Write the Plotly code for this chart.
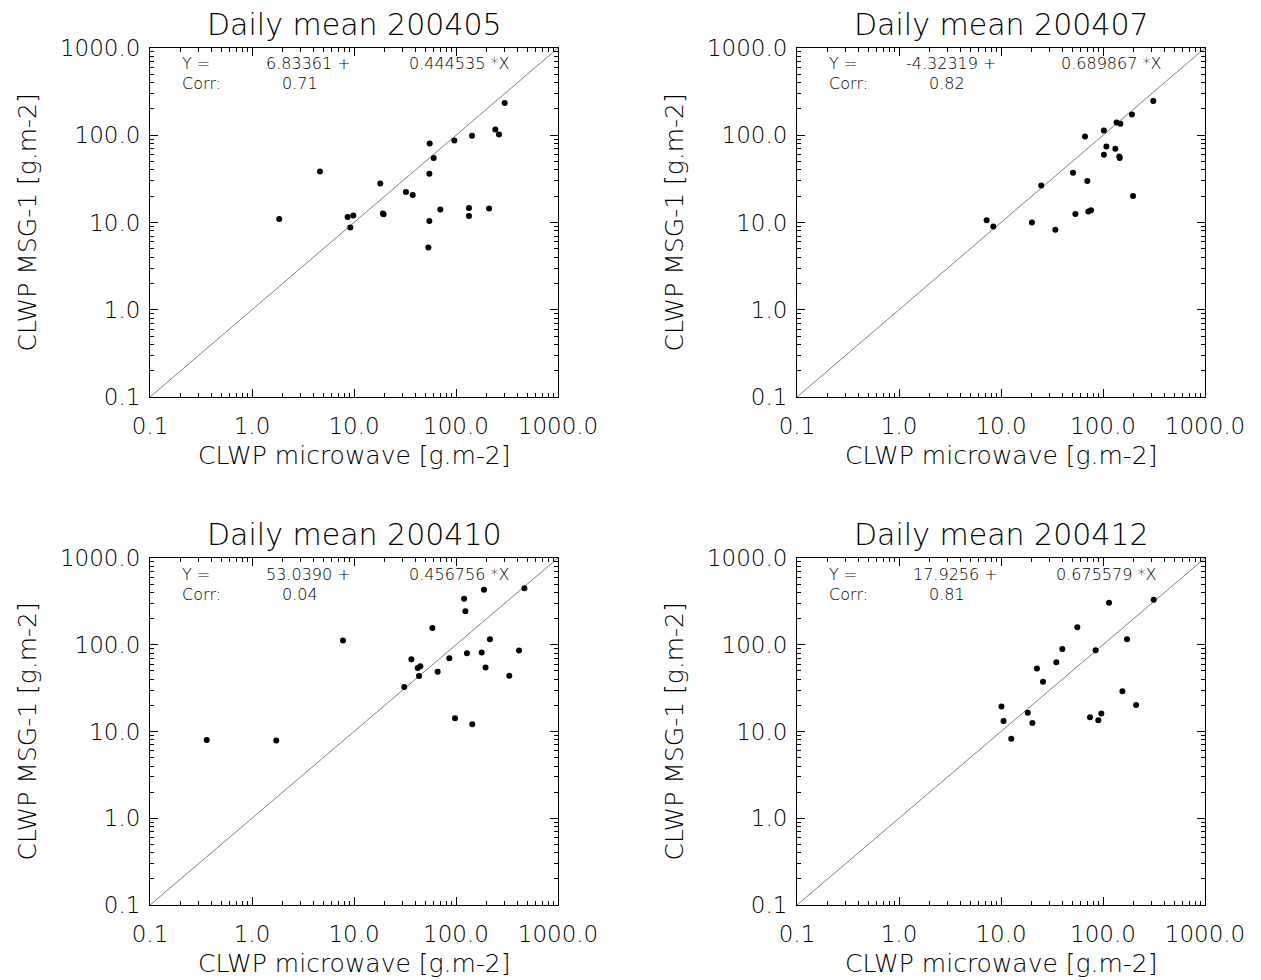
import plotly.graph_objects as go

# ---------------- data ----------------
titles = ["Daily mean 200405", "Daily mean 200407", "Daily mean 200410", "Daily mean 200412"]
intercepts = ["6.83361", "-4.32319", "53.0390", "17.9256"]
slopes = ["0.444535", "0.689867", "0.456756", "0.675579"]
corrs = ["0.71", "0.82", "0.04", "0.81"]

x_200405 = [1.85, 4.64, 8.66, 9.85, 9.2, 18.1, 19.2, 19.5, 32.3, 37.6, 55.2, 60.4, 54.8, 54.8,
            53.6, 70.2, 96.3, 143.5, 134, 134, 211, 243, 264, 300]
y_200405 = [11.0, 38.5, 11.6, 12.0, 8.77, 28.0, 12.7, 12.4, 22.3, 20.7, 80.6, 54.7, 36.1, 10.4,
            5.17, 14.1, 87.3, 98.6, 14.7, 11.9, 14.5, 116.7, 102, 234]

x_200407 = [7.23, 8.41, 20.1, 24.8, 34.1, 50.8, 53.6, 66.6, 70.2, 71.8, 76.3, 102, 102, 108,
            132, 136, 148, 144.5, 146, 192, 197, 311]
y_200407 = [10.6, 9.0, 10.0, 26.5, 8.24, 37.2, 12.5, 97, 29.8, 13.4, 13.8, 113, 59.7, 74.5,
            70, 140, 135.5, 57.1, 55, 173, 20.1, 247]

x_200410 = [0.36, 1.73, 7.8, 31.1, 36.5, 42.1, 44.7, 43.4, 58.6, 66.1, 86, 97.8, 120, 123.5,
            128, 144.5, 178.5, 188, 195, 215, 333, 415, 468]
y_200410 = [8.0, 7.9, 111.7, 32.5, 68.2, 53.8, 56.7, 43.5, 156, 48.8, 70, 14.2, 339, 244,
            79.8, 12.1, 81.2, 430, 54.7, 115.6, 43.9, 85.7, 449]

x_200412 = [10.1, 10.6, 12.6, 18.3, 20.3, 22.5, 25.8, 34.9, 39.9, 56, 74.6, 84.7, 90, 96.3,
            114.5, 155, 172, 211, 314]
y_200412 = [19.4, 13.2, 8.24, 16.4, 12.5, 53.3, 37.5, 63, 89.5, 159, 14.6, 86.5, 13.5, 16.1,
            305, 29.1, 115.6, 20.2, 330]

xs = [x_200405, x_200407, x_200410, x_200412]
ys = [y_200405, y_200407, y_200410, y_200412]

one_to_one = [0.1, 1000.0]
tick_vals = [0.1, 1, 10, 100, 1000]
tick_text = ["0.1", "1.0", "10.0", "100.0", "1000.0"]
minor_vals = [m * 10.0 ** k for k in range(-1, 3) for m in range(2, 10)]

x_label = "CLWP microwave [g.m-2]"
y_label = "CLWP MSG-1 [g.m-2]"

# ---------------- layout (pixels of the page) ----------------
OFF = 8                      # default body margin of the html page
W, H = 1261 - OFF, 980 - OFF
lefts = [150, 797, 150, 797]
rights = [558, 1205, 558, 1205]
tops = [48, 48, 558, 558]
bottoms = [397, 397, 905, 905]

FONT = "DejaVu Sans"


def px(x):
    return (x - OFF) / W


def py(y):
    return 1 - (y - OFF) / H


fig = go.Figure()
annotations = []

for i in range(4):
    n = "" if i == 0 else str(i + 1)
    xa, ya = "x" + n, "y" + n
    fig.add_trace(go.Scatter(x=one_to_one, y=one_to_one, mode="lines",
                             line=dict(color="#808080", width=1),
                             xaxis=xa, yaxis=ya, showlegend=False, hoverinfo="skip"))
    fig.add_trace(go.Scatter(x=xs[i], y=ys[i], mode="markers",
                             marker=dict(color="black", size=6),
                             xaxis=xa, yaxis=ya, showlegend=False))

    common = dict(type="log", range=[-1, 3], showline=True, linecolor="black", linewidth=1,
                  mirror="ticks", ticks="inside", ticklen=8, tickwidth=1, tickcolor="black",
                  tickvals=tick_vals, ticktext=tick_text, showgrid=False, zeroline=False,
                  automargin=False,
                  tickfont=dict(family=FONT, size=23, color="black", weight=200),
                  minor=dict(ticks="inside", ticklen=4, tickwidth=1, tickcolor="black",
                             tickvals=minor_vals, showgrid=False))
    fig.layout["xaxis" + n] = dict(common, domain=[px(lefts[i]), px(rights[i])],
                                   anchor=ya, ticklabelstandoff=8)
    fig.layout["yaxis" + n] = dict(common, domain=[py(bottoms[i]), py(tops[i])],
                                   anchor=xa, ticklabelstandoff=4)

    L, R, T, B = lefts[i], rights[i], tops[i], bottoms[i]
    C = (L + R) / 2
    # title
    annotations.append(dict(text=titles[i], x=px(C), y=py(T - 24), xref="paper", yref="paper",
                            showarrow=False, xanchor="center", yanchor="middle",
                            font=dict(family=FONT, size=30, color="black", weight=200)))
    # axis titles
    annotations.append(dict(text=x_label, x=px(C), y=py(B + 58), xref="paper", yref="paper",
                            showarrow=False, xanchor="center", yanchor="middle",
                            font=dict(family=FONT, size=25, color="black", weight=200)))
    annotations.append(dict(text=y_label, x=px(L - 123), y=py((T + B) / 2), xref="paper", yref="paper",
                            showarrow=False, xanchor="center", yanchor="middle", textangle=-90,
                            font=dict(family=FONT, size=25, color="black", weight=200)))
    # fit text
    shift = -7 if intercepts[i].startswith("-") else 0
    afont = dict(family=FONT, size=16, color="black", weight=200)
    annotations.append(dict(text="Y =", x=px(L + 30), y=py(T + 16), xref="paper", yref="paper",
                            showarrow=False, xanchor="left", yanchor="middle", font=afont))
    annotations.append(dict(text=intercepts[i] + " +", x=px(L + 114 + shift), y=py(T + 16),
                            xref="paper", yref="paper", showarrow=False, xanchor="left",
                            yanchor="middle", font=afont))
    annotations.append(dict(text=slopes[i] + " *X", x=px(L + 257 - shift * 5 / 7), y=py(T + 16),
                            xref="paper", yref="paper", showarrow=False, xanchor="left",
                            yanchor="middle", font=afont))
    annotations.append(dict(text="Corr:", x=px(L + 30), y=py(T + 36), xref="paper", yref="paper",
                            showarrow=False, xanchor="left", yanchor="middle", font=afont))
    annotations.append(dict(text=corrs[i], x=px(L + 130), y=py(T + 36), xref="paper", yref="paper",
                            showarrow=False, xanchor="left", yanchor="middle", font=afont))

fig.update_layout(template="none", width=W, height=H, margin=dict(l=0, r=0, t=0, b=0),
                  paper_bgcolor="white", plot_bgcolor="white",
                  annotations=annotations, showlegend=False,
                  font=dict(family=FONT, color="black"))

fig.write_html("out.html")
